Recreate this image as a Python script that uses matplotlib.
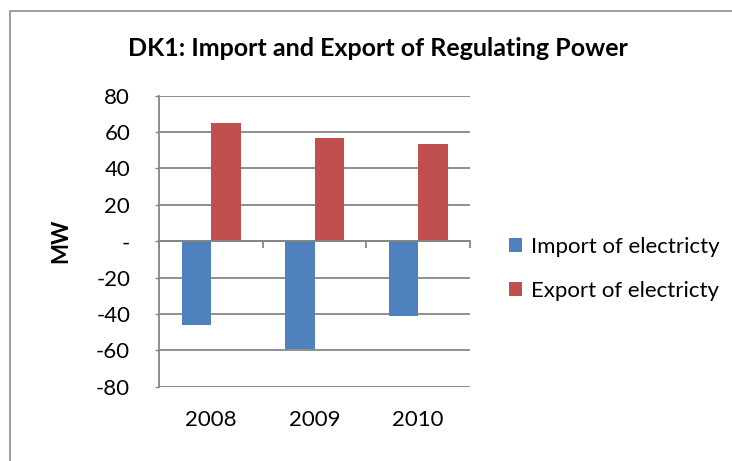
import matplotlib.pyplot as plt
import matplotlib.patches as patches
import numpy as np
from matplotlib.ticker import FuncFormatter

years = ['2008', '2009', '2010']
imports = [-46, -59.5, -41]
exports = [65, 57, 53.5]
series_names = ['Import of electricty', 'Export of electricty']

plt.rcParams['font.family'] = ['Lato', 'DejaVu Sans']

W, H = 732, 461
fig = plt.figure(figsize=(W / 100, H / 100), dpi=100)
ax = fig.add_axes([159.3 / W, 1 - 386.7 / H, (470 - 159.3) / W, (386.7 - 95.7) / H])

x = np.arange(len(years))
bw = 0.285
blue = '#4F81BD'
red = '#C0504D'
grid_c = '#868686'

b1 = ax.bar(x - bw / 2, imports, bw, color=blue, label=series_names[0], zorder=3)
b2 = ax.bar(x + bw / 2, exports, bw, color=red, label=series_names[1], zorder=3)

ax.set_xlim(-0.5, 2.5)
ax.set_ylim(-80, 80)
ax.set_yticks(np.arange(-80, 81, 20))
ax.yaxis.set_major_formatter(FuncFormatter(lambda v, p: '-' if v == 0 else f'{v:.0f}'))
ax.yaxis.grid(True, color=grid_c, linewidth=1.3, zorder=0)
ax.tick_params(axis='y', length=3, width=1, color=grid_c, labelsize=16, pad=18)

for s in ['top', 'right']:
    ax.spines[s].set_visible(False)
ax.spines['left'].set_color(grid_c)
ax.spines['left'].set_linewidth(1.3)
# horizontal axis sits on the zero line, ticks between categories
ax.spines['bottom'].set_position(('data', 0))
ax.spines['bottom'].set_color(grid_c)
ax.spines['bottom'].set_linewidth(1.3)
ax.spines['bottom'].set_zorder(4)
ax.set_xticks([-0.5, 0.5, 1.5, 2.5])
ax.set_xticklabels([])
ax.tick_params(axis='x', length=5, width=1.3, color=grid_c, direction='out')

sec = ax.secondary_xaxis('bottom')
sec.set_xticks(x)
sec.set_xticklabels(years)
sec.tick_params(length=0, labelsize=16, pad=17)
sec.spines['bottom'].set_visible(False)

ax.set_ylabel('MW', fontsize=16, fontweight='bold')
ax.yaxis.set_label_coords(-0.285, 0.5)

fig.text(378 / W, 1 - 48 / H, 'DK1: Import and Export of Regulating Power',
         ha='center', va='center', fontsize=18, fontweight='bold')

fig.legend(handles=[b1, b2], labels=series_names, loc='center left',
           bbox_to_anchor=(489 / W, 1 - 269 / H), frameon=False, fontsize=16,
           handlelength=0.6, handleheight=0.6, handletextpad=0.4, labelspacing=1.1)

fig.patches.append(patches.Rectangle((10 / W, -0.1), 1.2, 1.1 - 10.7 / H,
                                     transform=fig.transFigure, fill=False,
                                     edgecolor='#8c8c8c', linewidth=1.2))

fig.savefig('out.png', dpi=100)
